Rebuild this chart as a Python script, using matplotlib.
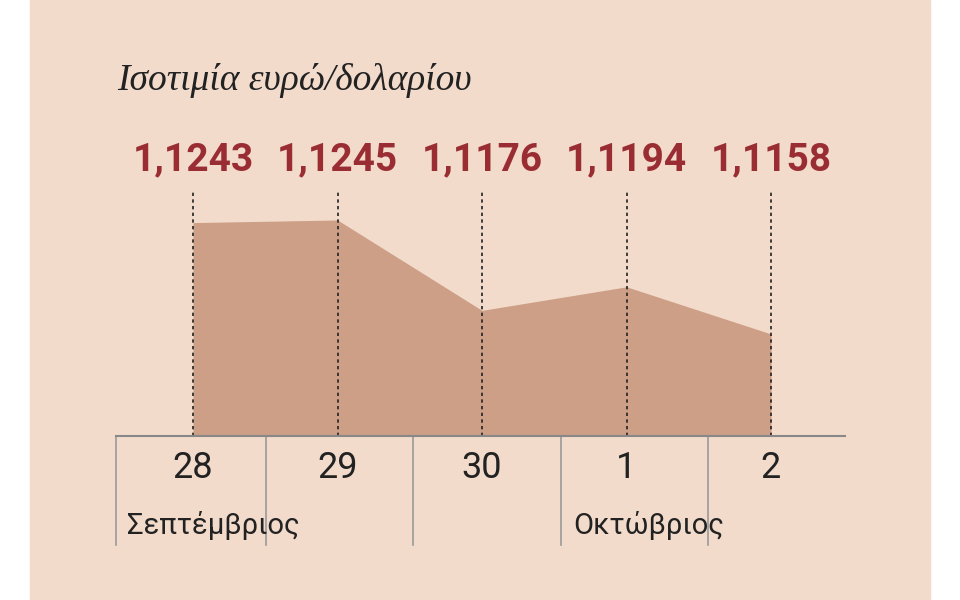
import matplotlib
matplotlib.use("Agg")
import matplotlib.pyplot as plt

days = ["28", "29", "30", "1", "2"]
rates = [1.1243, 1.1245, 1.1176, 1.1194, 1.1158]
labels = ["1,1243", "1,1245", "1,1176", "1,1194", "1,1158"]
months = [("Σεπτέμβριος", 127), ("Οκτώβριος", 573)]
title = "Ισοτιμία ευρώ/δολαρίου"

red = "#9a2d33"
fill = "#cd9f86"
bg = "#f2dbcb"

# pixel <-> data mapping so the axes fills the whole figure
step = 144.5
x0 = 193
base = 1.10801
ppu = 13100.0

def px(p):
    return (p - x0) / step

def py(p):
    return base + (436 - p) / ppu

fig = plt.figure(figsize=(9.6, 6), dpi=100)
fig.patch.set_facecolor("white")
ax = fig.add_axes([0, 0, 1, 1])
ax.set_xlim(px(0), px(960))
ax.set_ylim(py(600), py(0))
ax.axis("off")

ax.axvspan(px(30), px(930), color=bg, zorder=0)

xs = list(range(len(rates)))
ax.fill_between(xs, base, rates, color=fill, lw=0, zorder=1)

for i, v in enumerate(rates):
    ax.plot([i, i], [base, py(190)], ls=(0, (2, 2)), color="#222222", lw=1.2, zorder=2)
    ax.text(i, py(160), labels[i], ha="center", va="center", color=red,
            fontsize=28, fontweight="bold", family="Roboto")
    ax.text(i, py(468), days[i], ha="center", va="center", color="#222222",
            fontsize=26, family="Roboto")

ax.plot([px(116), px(845)], [base, base], color="#888888", lw=1.5, zorder=3)
for p in [116, 266, 413, 561, 708]:
    ax.plot([px(p), px(p)], [base, py(545)], color="#999999", lw=1.2)

for name, p in months:
    ax.text(px(p), py(525), name, ha="left", va="center",
            color="#222222", fontsize=21, family="Roboto")

ax.text(px(117), py(80), title, ha="left", va="center", color="#222222",
        fontsize=27, family="Liberation Serif", style="italic")

fig.savefig("out.png", dpi=100, facecolor=fig.get_facecolor())
